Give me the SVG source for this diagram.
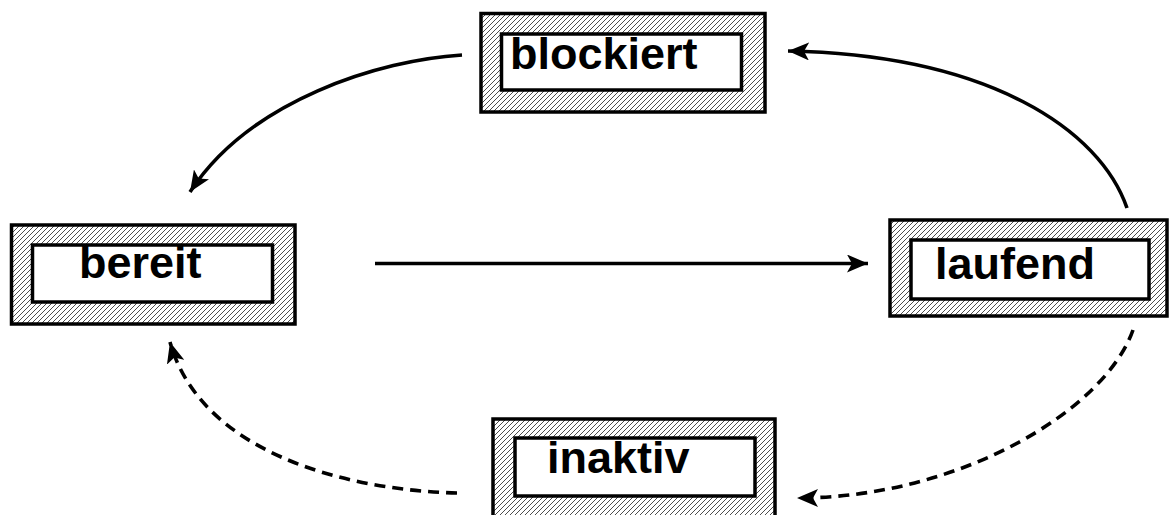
<svg xmlns="http://www.w3.org/2000/svg" width="1171" height="515" viewBox="0 0 1171 515">
<style>
.outer{fill:url(#hatch);stroke:#000;stroke-width:3.5}
.inner{fill:#fff;stroke:#000;stroke-width:3.5}
.lbl{font-family:"Liberation Sans",Arial,sans-serif;font-weight:bold;font-size:45px;fill:#000}
.edge{fill:none;stroke:#000;stroke-width:3.6}
.dash{stroke-dasharray:11 7}
</style>
<defs>
<pattern id="hatch" patternUnits="userSpaceOnUse" width="5" height="5">
<rect width="5" height="5" fill="#fff"/>
<path d="M-1,1 L1,-1 M0,5 L5,0 M4,6 L6,4" stroke="#000" stroke-width="0.7"/>
</pattern>
<marker id="ah" markerUnits="userSpaceOnUse" viewBox="0 0 22 18" markerWidth="22" markerHeight="18" refX="21" refY="9" orient="auto">
<path d="M0,0 L21,9 L0,18 L5,9 z" fill="#000"/>
</marker>
</defs>
<rect width="1171" height="515" fill="#fff"/>
<g id="node-blockiert">
<rect class="outer" x="481" y="13.5" width="284" height="98.5"/>
<rect class="inner" x="501.5" y="34" width="240" height="56"/>
<text class="lbl" x="510" y="69">blockiert</text>
</g>
<g id="node-bereit">
<rect class="outer" x="11.5" y="225" width="283.5" height="99"/>
<rect class="inner" x="32.5" y="245" width="240" height="57"/>
<text class="lbl" x="79" y="278">bereit</text>
</g>
<g id="node-laufend">
<rect class="outer" x="890" y="220" width="277" height="96"/>
<rect class="inner" x="911" y="240" width="238" height="59"/>
<text class="lbl" x="935" y="279">laufend</text>
</g>
<g id="node-inaktiv">
<rect class="outer" x="493" y="419" width="282" height="99"/>
<rect class="inner" x="515" y="438" width="240" height="58"/>
<text class="lbl" x="547" y="473">inaktiv</text>
</g>
<g id="connectors">
<path class="edge" d="M462,55 C380,60 250,100 190,192" marker-end="url(#ah)"/>
<path class="edge" d="M1127,208 C1100,130 990,55 788,51" marker-end="url(#ah)"/>
<path class="edge" d="M375,263.5 L868,263.5" marker-end="url(#ah)"/>
<path class="edge dash" d="M1133,330 C1105,410 960,498 797,498" marker-end="url(#ah)"/>
<path class="edge dash" d="M457,493 C340,490 200,450 170,342" marker-end="url(#ah)"/>
</g>
</svg>
